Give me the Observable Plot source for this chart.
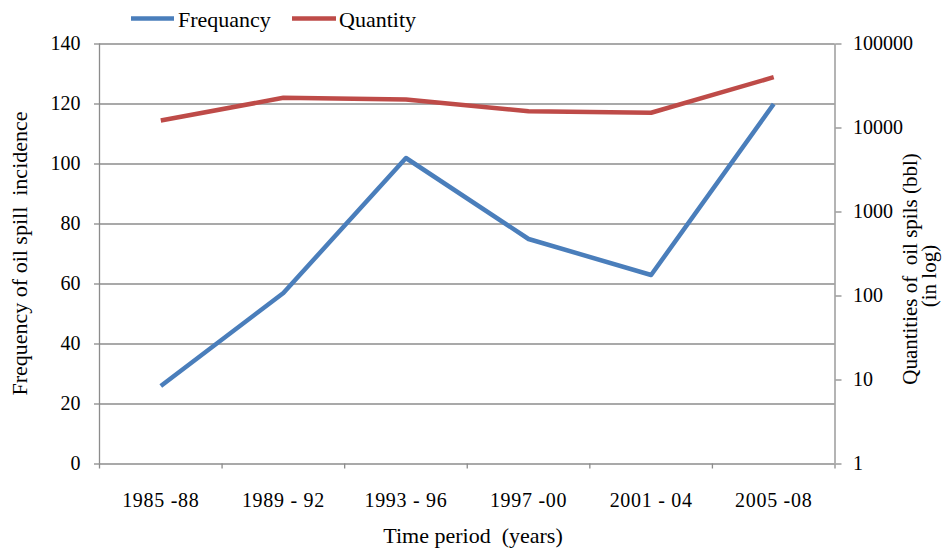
<!DOCTYPE html>
<html>
<head>
<meta charset="utf-8">
<script src="https://cdn.jsdelivr.net/npm/d3@7"></script>
<script src="https://cdn.jsdelivr.net/npm/@observablehq/plot@0.6"></script>
<style>
  html, body { margin: 0; padding: 0; background: #fff; }
  #chart svg { display: block; }
  #chart svg text { font-family: "Liberation Serif", "DejaVu Serif", serif !important; }
  #chart svg g[aria-label="x-axis tick label"] text { letter-spacing: 0.7px; }
</style>
</head>
<body>
<div id="chart"></div>
<script>
// ---- data ----
const periods = ["1985 -88", "1989 - 92", "1993 - 96", "1997 -00", "2001 - 04", "2005 -08"];
const frequency = [26, 57, 102, 75, 63, 120];
const quantity = [12300, 22900, 21800, 15800, 15200, 40300];
const leftTicks = [0, 20, 40, 60, 80, 100, 120, 140];
const rightTicks = [1, 10, 100, 1000, 10000, 100000];
const seriesNames = ["Frequancy", "Quantity"];
const seriesColors = ["#4A7EBB", "#BE4B48"];

// right (log) axis mapped onto the left linear axis
const logToLeft = d3.scaleLog().domain([1, 100000]).range([0, 140]);

const table = periods.map((p, i) => ({
  period: p,
  pos: i + 0.5,
  frequency: frequency[i],
  quantity: quantity[i]
}));

const gray = "#8c8c8c";
const W = 949, H = 553;

const chart = Plot.plot({
  width: W,
  height: H,
  marginTop: 43.5,
  marginBottom: 89.5,
  marginLeft: 99,
  marginRight: 114.5,
  x: {domain: [0, periods.length], axis: null},
  y: {domain: [0, 140], axis: null},
  style: {fontFamily: "Liberation Serif", fontSize: "20px", color: "#000", background: "#fff", overflow: "visible"},
  marks: [
    Plot.gridY(leftTicks, {stroke: gray, strokeOpacity: 1, strokeWidth: 1.3}),
    Plot.ruleX([0, periods.length], {stroke: gray, strokeWidth: 1.3}),
    Plot.axisY(leftTicks, {anchor: "left", tickSize: 5, tickPadding: 14, label: null, stroke: gray, strokeWidth: 1.3, fill: "#000", fontSize: 20}),
    Plot.axisY(rightTicks.map(v => logToLeft(v)), {
      anchor: "right", tickSize: 6, tickPadding: 12, label: null, stroke: gray, strokeWidth: 1.3, fill: "#000", fontSize: 20,
      tickFormat: d => String(Math.round(logToLeft.invert(d)))
    }),
    Plot.axisX(d3.range(periods.length + 1), {anchor: "bottom", tickSize: 5, tickFormat: () => "", label: null, stroke: gray, strokeWidth: 1.3}),
    Plot.axisX(table.map(d => d.pos), {anchor: "bottom", tickSize: 0, tickPadding: 29, label: null, fill: "#000", fontSize: 20,
      tickFormat: d => periods[Math.floor(d)]}),
    Plot.lineY(table, {x: "pos", y: "frequency", stroke: seriesColors[0], strokeWidth: 4.5, strokeLinejoin: "round", strokeLinecap: "butt"}),
    Plot.lineY(table, {x: "pos", y: d => logToLeft(d.quantity), stroke: seriesColors[1], strokeWidth: 4.5, strokeLinejoin: "round", strokeLinecap: "butt"})
  ]
});

document.getElementById("chart").appendChild(chart);

// ---- titles and legend ----
const svg = d3.select(chart);

function addText(transform, size, anchor, str) {
  return svg.append("text")
    .attr("transform", transform)
    .attr("text-anchor", anchor)
    .attr("font-size", size)
    .attr("fill", "#000")
    .attr("xml:space", "preserve")
    .text(str);
}

addText("translate(27,253.5) rotate(-90)", 22, "middle", "Frequency of oil spill  incidence");
addText("translate(473,543)", 22, "middle", "Time period  (years)");
addText("translate(917,269) rotate(-90)", 21, "middle", "Quantities of  oil spils (bbl)");
addText("translate(936,276) rotate(-90)", 21, "middle", "(in log)");

const legendItems = [
  {x1: 131, x2: 174, tx: 178},
  {x1: 292, x2: 336, tx: 339}
];
legendItems.forEach((it, i) => {
  svg.append("line")
    .attr("x1", it.x1).attr("x2", it.x2).attr("y1", 18.5).attr("y2", 18.5)
    .attr("stroke", seriesColors[i]).attr("stroke-width", 4.5);
  addText(`translate(${it.tx},27.3)`, 22, "start", seriesNames[i]);
});
</script>
</body>
</html>
